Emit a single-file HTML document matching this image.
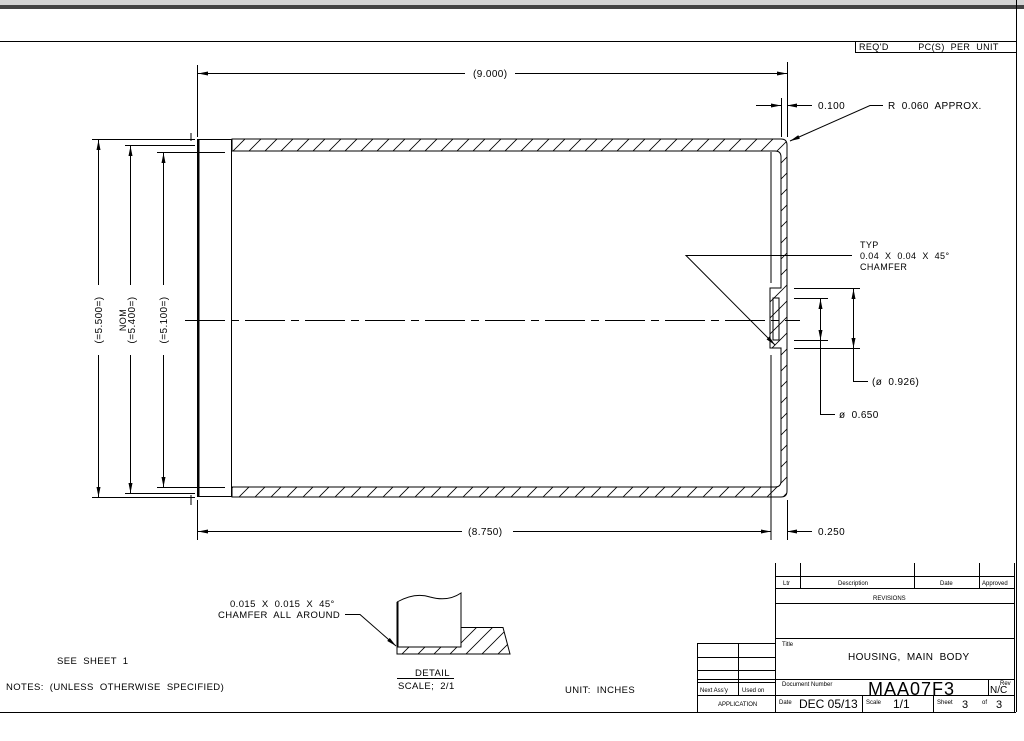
<!DOCTYPE html>
<html><head><meta charset="utf-8"><style>
html,body{margin:0;padding:0;background:#fff;width:1024px;height:741px;overflow:hidden}
svg{display:block}
text{font-family:"Liberation Sans",sans-serif;fill:#000}
.w{word-spacing:3px;letter-spacing:0.4px}
</style></head><body>
<svg width="1024" height="741" viewBox="0 0 1024 741" xmlns="http://www.w3.org/2000/svg">
<defs>
<pattern id="h" patternUnits="userSpaceOnUse" width="16" height="16">
<path d="M0 16 L16 0 M-2 2 L2 -2 M14 18 L18 14" stroke="#000" stroke-width="0.8"/>
</pattern>
<marker id="a" viewBox="0 0 10 4" refX="10" refY="2" markerWidth="10" markerHeight="4" orient="auto-start-reverse" markerUnits="userSpaceOnUse"><path d="M0 0 L10 2 L0 4z" fill="#000"/></marker>
</defs>
<rect x="0" y="0" width="1024" height="5" fill="#d4d4d4"/>
<rect x="0" y="5" width="1024" height="4" fill="#444"/>
<g stroke="#000" stroke-width="1" fill="none">
<line x1="0" y1="41.5" x2="1016" y2="41.5"/>
<line x1="1016.5" y1="0" x2="1016.5" y2="712"/>
<line x1="0" y1="712.5" x2="1016" y2="712.5"/>
<polyline points="855.5,41 855.5,52.5 1016,52.5"/>
<path d="M232 139 H781 Q787 139 787 145 V491 Q787 497 781 497 H232 V487 H775 Q781 487 781 481 V348 H770 V288 H781 V157 Q781 151 775 151 H232 Z" fill="url(#h)"/>
<rect x="773" y="298" width="6" height="42"/>
<line x1="771" y1="355" x2="771" y2="540"/>
<line x1="771" y1="152" x2="771" y2="283"/>
<rect x="197.5" y="139.5" width="34" height="357"/>
<line x1="198.5" y1="139" x2="198.5" y2="497" stroke-width="2"/>
<line x1="191" y1="133" x2="191" y2="141"/><line x1="191" y1="495" x2="191" y2="505"/>
<line x1="185" y1="320.5" x2="800" y2="320.5" stroke-dasharray="40,6,8,6"/>
<line x1="197.5" y1="65" x2="197.5" y2="137"/>
<line x1="787.5" y1="62" x2="787.5" y2="137"/>
<line x1="781.5" y1="98" x2="781.5" y2="137"/>
<line x1="198" y1="73.5" x2="465" y2="73.5" marker-start="url(#a)"/>
<line x1="515" y1="73.5" x2="787" y2="73.5" marker-end="url(#a)"/>
<line x1="756" y1="105.5" x2="781" y2="105.5" marker-end="url(#a)"/>
<line x1="812" y1="105.5" x2="787" y2="105.5" marker-end="url(#a)"/>
<polyline points="883,105.5 870,105.5 790,141" marker-end="url(#a)"/>
<polyline points="852,255.5 686,255.5 775,345" marker-end="url(#a)"/>
<line x1="197.5" y1="500" x2="197.5" y2="540"/>
<line x1="787.5" y1="500" x2="787.5" y2="540"/>
<line x1="198" y1="531.5" x2="462" y2="531.5" marker-start="url(#a)"/>
<line x1="513" y1="531.5" x2="771" y2="531.5" marker-end="url(#a)"/>
<line x1="812" y1="531.5" x2="787" y2="531.5" marker-end="url(#a)"/>
<line x1="92" y1="139.5" x2="195" y2="139.5"/>
<line x1="92" y1="497.5" x2="195" y2="497.5"/>
<line x1="125" y1="145.5" x2="195" y2="145.5"/>
<line x1="125" y1="493.5" x2="195" y2="493.5"/>
<line x1="157" y1="152.5" x2="225" y2="152.5"/>
<line x1="157" y1="487.5" x2="225" y2="487.5"/>
<line x1="98.5" y1="140" x2="98.5" y2="285" marker-start="url(#a)"/>
<line x1="98.5" y1="355" x2="98.5" y2="497" marker-end="url(#a)"/>
<line x1="130.5" y1="146" x2="130.5" y2="285" marker-start="url(#a)"/>
<line x1="130.5" y1="355" x2="130.5" y2="493" marker-end="url(#a)"/>
<line x1="163.5" y1="153" x2="163.5" y2="285" marker-start="url(#a)"/>
<line x1="163.5" y1="355" x2="163.5" y2="487" marker-end="url(#a)"/>
<line x1="794" y1="288.5" x2="860" y2="288.5"/>
<line x1="794" y1="348.5" x2="860" y2="348.5"/>
<line x1="794" y1="298.5" x2="828" y2="298.5"/>
<line x1="794" y1="340.5" x2="828" y2="340.5"/>
<line x1="853.5" y1="320" x2="853.5" y2="289" marker-end="url(#a)"/>
<line x1="853.5" y1="320" x2="853.5" y2="348" marker-end="url(#a)"/>
<polyline points="853.5,348 853.5,381.5 868,381.5"/>
<line x1="820.5" y1="320" x2="820.5" y2="299" marker-end="url(#a)"/>
<line x1="820.5" y1="320" x2="820.5" y2="340" marker-end="url(#a)"/>
<polyline points="820.5,340 820.5,414.5 835,414.5"/>
<path d="M397 647 H461 V627.5 H503 L510 654 H397 Z" fill="url(#h)"/>
<path d="M397 602 Q415 592 430 597 Q448 602 461 593 V647"/>
<line x1="397.5" y1="602" x2="397.5" y2="647" stroke-width="2"/>
<polyline points="345,614.5 360,614.5 396,646" marker-end="url(#a)"/>
<line x1="397" y1="678.5" x2="454" y2="678.5"/>
<line x1="775.5" y1="563" x2="775.5" y2="712"/>
<line x1="775" y1="576.5" x2="1014" y2="576.5"/>
<line x1="775" y1="588.5" x2="1014" y2="588.5"/>
<line x1="775" y1="603.5" x2="1014" y2="603.5"/>
<line x1="775" y1="638.5" x2="1014" y2="638.5"/>
<line x1="697" y1="679.5" x2="1014" y2="679.5"/>
<line x1="697" y1="695.5" x2="1014" y2="695.5"/>
<line x1="800.5" y1="563" x2="800.5" y2="588"/>
<line x1="914.5" y1="563" x2="914.5" y2="588"/>
<line x1="979.5" y1="563" x2="979.5" y2="588"/>
<line x1="1014.5" y1="563" x2="1014.5" y2="712"/>
<line x1="988.5" y1="679" x2="988.5" y2="695"/>
<line x1="862.5" y1="695" x2="862.5" y2="712"/>
<line x1="933.5" y1="695" x2="933.5" y2="712"/>
<line x1="697.5" y1="643" x2="697.5" y2="712"/>
<line x1="697" y1="643.5" x2="775" y2="643.5"/>
<line x1="697" y1="657.5" x2="775" y2="657.5"/>
<line x1="697" y1="670.5" x2="775" y2="670.5"/>
<line x1="697" y1="682.5" x2="775" y2="682.5"/>
<line x1="738.5" y1="643" x2="738.5" y2="695"/>
</g>
<g font-size="10" class="w">
<text x="859" y="50" font-size="9">REQ'D &#160;&#160;&#160; PC(S) PER UNIT</text>
<text x="473" y="77">(9.000)</text>
<text x="818" y="109">0.100</text>
<text x="888" y="109">R 0.060 APPROX.</text>
<text x="860" y="248" font-size="9">TYP</text>
<text x="860" y="259" font-size="9">0.04 X 0.04 X 45°</text>
<text x="860" y="270" font-size="9">CHAMFER</text>
<text x="872" y="385">(ø 0.926)</text>
<text x="839" y="418">ø 0.650</text>
<text x="468" y="535">(8.750)</text>
<text x="818" y="535">0.250</text>
<text transform="translate(102,320) rotate(-90)" text-anchor="middle">(=5.500=)</text>
<text transform="translate(126,320) rotate(-90)" text-anchor="middle" font-size="9">NOM</text>
<text transform="translate(135,320) rotate(-90)" text-anchor="middle">(=5.400=)</text>
<text transform="translate(167,320) rotate(-90)" text-anchor="middle">(=5.100=)</text>
<text x="230" y="607" font-size="9.5">0.015 X 0.015 X 45°</text>
<text x="218" y="618" font-size="9.5">CHAMFER ALL AROUND</text>
<text x="415" y="676" font-size="9.5">DETAIL</text>
<text x="398" y="689" font-size="9.5">SCALE;  2/1</text>
<text x="57" y="664" font-size="9.5">SEE SHEET 1</text>
<text x="6" y="690" font-size="9.5">NOTES:  (UNLESS OTHERWISE SPECIFIED)</text>
<text x="565" y="693" font-size="9.5">UNIT: INCHES</text>
</g>
<g font-size="6">
<text x="783" y="585">Ltr</text><text x="838" y="585">Description</text><text x="940" y="585">Date</text><text x="982" y="585">Approved</text>
<text x="873" y="600">REVISIONS</text>
<text x="782" y="646">Title</text>
<text x="782" y="686">Document Number</text>
<text x="1000" y="685">Rev</text>
<text x="700" y="692">Next Ass'y</text><text x="742" y="692">Used on</text>
<text x="718" y="706">APPLICATION</text>
<text x="779" y="704">Date</text><text x="866" y="704">Scale</text><text x="937" y="704">Sheet</text><text x="982" y="704">of</text>
</g>
<text x="848" y="660" font-size="10" class="w">HOUSING, MAIN BODY</text>
<text x="868" y="695" font-size="18" letter-spacing="1">MAA07F3</text>
<text x="990" y="693" font-size="10">N/C</text>
<text x="799" y="708" font-size="12">DEC 05/13</text>
<text x="893" y="708" font-size="12">1/1</text>
<text x="962" y="708" font-size="11">3</text>
<text x="996" y="708" font-size="11">3</text>
</svg>
</body></html>
